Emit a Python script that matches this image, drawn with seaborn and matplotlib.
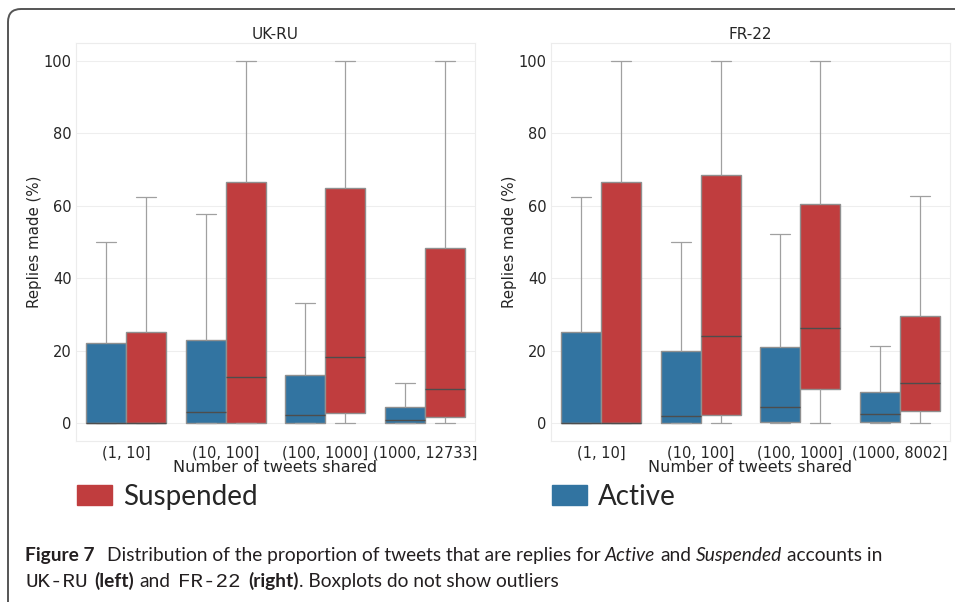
import numpy as np
import pandas as pd
import matplotlib
matplotlib.use("Agg")
import matplotlib.pyplot as plt
import seaborn as sns
from matplotlib.patches import Patch, FancyBboxPatch

status_order = ["Active", "Suspended"]
bins_ukru = ["(1, 10]", "(10, 100]", "(100, 1000]", "(1000, 12733]"]
bins_fr22 = ["(1, 10]", "(10, 100]", "(100, 1000]", "(1000, 8002]"]

ukru_active = [[0, 0, 0, 22.2, 50.0], [0, 0, 3.1, 23.0, 57.7],
               [0, 0, 2.3, 13.2, 33.1], [0, 0, 0.7, 4.3, 11.0]]
ukru_suspended = [[0, 0, 0, 25.0, 62.5], [0, 0, 12.8, 66.7, 100.0],
                  [0, 2.8, 18.3, 65.0, 100.0], [0, 1.7, 9.3, 48.3, 100.0]]
fr22_active = [[0, 0, 0, 25.0, 62.5], [0, 0, 1.9, 20.0, 50.0],
               [0, 0.3, 4.5, 21.1, 52.3], [0, 0.2, 2.4, 8.6, 21.2]]
fr22_suspended = [[0, 0, 0, 66.7, 100.0], [0, 2.2, 23.9, 68.4, 100.0],
                  [0, 9.3, 26.3, 60.4, 100.0], [0, 3.3, 11.0, 29.6, 62.8]]


def to_long(bins, active, suspended):
    rows = []
    for status, summaries in (("Active", active), ("Suspended", suspended)):
        for b, vals in zip(bins, summaries):
            for v in vals:
                rows.append({"bin": b, "status": status, "value": v})
    return pd.DataFrame(rows)


df_ukru = to_long(bins_ukru, ukru_active, ukru_suspended)
df_fr22 = to_long(bins_fr22, fr22_active, fr22_suspended)

# --- style ---
sns.set_style("whitegrid", {"axes.edgecolor": "#ececec", "grid.color": "#eeeeee",
                            "text.color": "#262626", "xtick.color": "#262626",
                            "ytick.color": "#262626", "axes.labelcolor": "#262626"})
plt.rcParams["font.family"] = ["DejaVu Sans"]

W, H = 955, 602
fig = plt.figure(figsize=(W / 100, H / 100), dpi=100)

palette = ["tab:blue", "tab:red"]
box_colors = [sns.desaturate(c, 0.75) for c in palette]

panels = [
    ("UK-RU", df_ukru, bins_ukru, 76, "Suspended", 1),
    ("FR-22", df_fr22, bins_fr22, 551, "Active", 0),
]

for title, df, bins, left_px, leg_label, leg_idx in panels:
    ax = fig.add_axes([left_px / W, 1 - 441 / H, 399 / W, 398 / H])
    sns.boxplot(data=df, x="bin", y="value", hue="status", order=bins,
                hue_order=status_order, palette=palette, saturation=0.75,
                whis=(0, 100), showfliers=False, width=0.8, gap=0,
                linewidth=1.0, linecolor="#8f8f8f",
                medianprops=dict(color="#4d4d4d", linewidth=1.0),
                whiskerprops=dict(color="#a0a0a0", linewidth=0.9),
                capprops=dict(color="#a0a0a0", linewidth=0.9),
                legend=False, ax=ax)
    ax.set_ylim(-5, 105)
    ax.set_yticks([0, 20, 40, 60, 80, 100])
    ax.set_title(title, fontsize=11, pad=3)
    ax.set_ylabel("Replies made (%)", fontsize=10.8, labelpad=1)
    ax.set_xlabel("Number of tweets shared", fontsize=11.5, labelpad=0)
    ax.tick_params(axis="both", labelsize=10.5, length=0, pad=3)
    ax.xaxis.grid(False)
    for sp in ax.spines.values():
        sp.set_linewidth(0.8)

    fig.legend(handles=[Patch(facecolor=box_colors[leg_idx], edgecolor=box_colors[leg_idx],
                              label=leg_label)],
               loc="center left", bbox_to_anchor=((left_px + 1) / W, 1 - 497 / H),
               frameon=False, borderpad=0, borderaxespad=0,
               handlelength=1.25, handleheight=0.75, handletextpad=0.4,
               prop={"family": "Lato", "size": 20})

# --- frame around the figure ---
frame = FancyBboxPatch((0.08, -0.5), 11.0, 6.02 - 0.09 + 0.5,
                       boxstyle="round,pad=0,rounding_size=0.13",
                       transform=fig.dpi_scale_trans, facecolor="none",
                       edgecolor="#555555", linewidth=1.4)
fig.add_artist(frame)

# --- caption, drawn piece by piece ---
renderer = fig.canvas.get_renderer()
cap_size = 13.8
mono = {"family": "Liberation Mono", "size": 15}
reg = {"family": "Lato", "size": cap_size}
bold = {"family": "Lato", "size": cap_size, "weight": "bold"}
ital = {"family": "Lato", "size": cap_size, "style": "italic"}


def text_width(s, kw):
    t = fig.text(0, 0, s, **kw)
    w = t.get_window_extent(renderer).width
    t.remove()
    return w


space = text_width("a a", reg) - text_width("aa", reg)


def caption_line(pieces, x_px, y_px):
    x = x_px
    for s, kw, gap in pieces:
        t = fig.text(x / W, 1 - y_px / H, s, ha="left", va="baseline",
                     color="#231f20", **kw)
        x += t.get_window_extent(renderer).width + gap


caption_line([
    ("Figure 7", bold, 12),
    ("Distribution of the proportion of tweets that are replies for", reg, space),
    ("Active", ital, space),
    ("and", reg, space),
    ("Suspended", ital, space),
    ("accounts in", reg, 0),
], 25, 561)

caption_line([
    ("UK-RU", mono, space + 2),
    ("(left)", bold, space),
    ("and", reg, space + 3),
    ("FR-22", mono, space + 3),
    ("(right)", bold, 0),
    (". Boxplots do not show outliers", reg, 0),
], 25, 587)

fig.savefig("out.png", dpi=100)
